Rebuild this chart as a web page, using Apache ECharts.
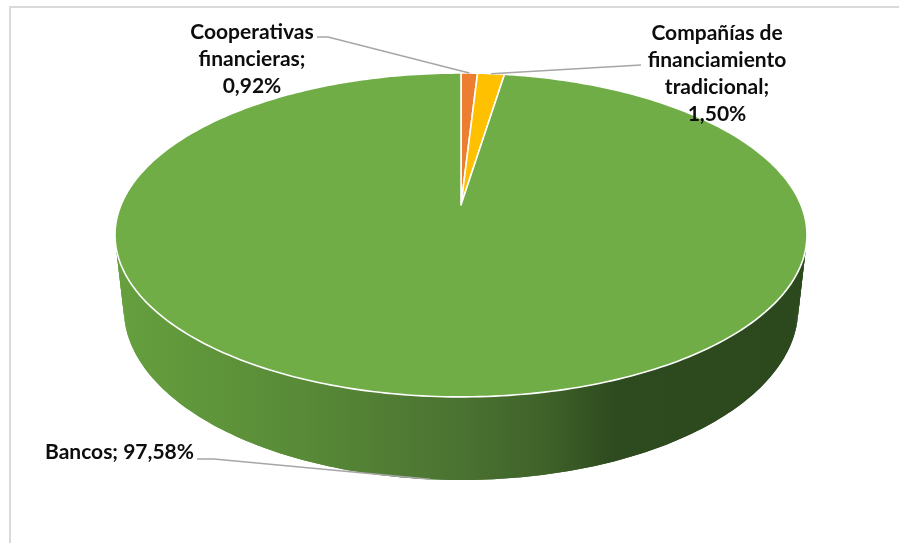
<!DOCTYPE html>
<html>
<head>
<meta charset="utf-8">
<script src="https://cdn.jsdelivr.net/npm/echarts@6/dist/echarts.min.js"></script>
<style>
  html, body { margin: 0; padding: 0; background: #fff; }
  #chart { width: 899px; height: 543px; }
</style>
</head>
<body>
<div id="chart"></div>
<script>
// Market share by type of credit institution (%)
const categories = ['Cooperativas financieras', 'Compañías de financiamiento tradicional', 'Bancos'];
const shares = [0.92, 1.50, 97.58];
const labelNames = ['Cooperativas\nfinancieras;\n', 'Compañías de\nfinanciamiento\ntradicional;\n', 'Bancos; '];
const sliceColors = ['#ED7D31', '#FFC000', '#70AD47'];

// Tilted-disc projection (perspective ellipse with a side wall)
const VIEW = { cx: 461, cy: 205, rx: 340, ry: 156.4, k: 0.185, m: 0.025, depth: 74.6 };

function project(theta, h) {
  const u = Math.sin(theta), v = Math.cos(theta);
  const w = 1 + VIEW.k * v + VIEW.m * h;
  return [VIEW.cx + VIEW.rx * u / w, VIEW.cy - VIEW.ry * v / w + VIEW.depth * h / w];
}

// Label placement (text anchor and leader-line bend points)
const labelLayout = [
  { x: 252, y: 59, align: 'center', bend: [[328, 37], [317, 37]] },
  { x: 717, y: 74, align: 'center', bend: [[641, 65]] },
  { x: 194, y: 452, align: 'right', bend: [[214, 459], [197, 459]] }
];

function wallFill(i) {
  if (i === 2) {
    return {
      type: 'linear', x: 115, y: 0, x2: 808, y2: 0, global: true,
      colorStops: [
        { offset: 0, color: '#66A03E' },
        { offset: 0.27, color: '#588A37' },
        { offset: 0.5, color: '#4A7231' },
        { offset: 0.62, color: '#3F6229' },
        { offset: 0.72, color: '#2E4B1F' },
        { offset: 1, color: '#2C481D' }
      ]
    };
  }
  return i === 0 ? '#A8561F' : '#B38700';
}

function fmtPct(v) {
  return v.toFixed(2).replace('.', ',') + '%';
}

function renderItem(params, api) {
  const i = params.dataIndex;
  const total = shares.reduce((a, b) => a + b, 0);
  let before = 0;
  for (let j = 0; j < i; j++) before += shares[j];
  const val = api.value(0);
  const a0 = before / total * Math.PI * 2;
  const a1 = (before + val) / total * Math.PI * 2;
  const steps = Math.max(2, Math.ceil((a1 - a0) / (Math.PI / 180)));
  const top = [], bot = [];
  for (let s = 0; s <= steps; s++) {
    const t = a0 + (a1 - a0) * s / steps;
    top.push(project(t, 0));
    bot.push(project(t, 1));
  }
  const children = [];
  const wf = wallFill(i);
  // side wall: overlapping strips so no seams show between them
  for (let s = 0; s < steps; s++) {
    const e = Math.min(s + 2, steps);
    children.push({
      type: 'polygon', z2: 1,
      shape: { points: [top[s], top[s + 1], top[e], bot[e], bot[s + 1], bot[s]] },
      style: { fill: wf }
    });
  }
  children.push({
    type: 'polygon', z2: 10,
    shape: { points: [[VIEW.cx, VIEW.cy]].concat(top) },
    style: { fill: sliceColors[i], stroke: '#FFFFFF', lineWidth: 1.6, lineJoin: 'round' }
  });

  // leader line from the slice edge to its label
  const mid = (a0 + a1) / 2;
  const anchor = i === 2 ? project(mid, 1) : project(mid, 0);
  const lay = labelLayout[i];
  children.push({
    type: 'polyline', z2: 20,
    shape: { points: [anchor].concat(lay.bend) },
    style: { fill: null, stroke: '#A6A6A6', lineWidth: 1.5 }
  });
  children.push({
    type: 'text', z2: 30,
    style: {
      text: labelNames[i] + fmtPct(val),
      x: lay.x, y: lay.y,
      align: lay.align, verticalAlign: 'middle',
      font: 'bold 21px Lato',
      lineHeight: 27,
      fill: '#0D0D0D'
    }
  });
  return { type: 'group', children: children };
}

const chart = echarts.init(document.getElementById('chart'), null, { renderer: 'canvas' });
chart.setOption({
  animation: false,
  backgroundColor: '#FFFFFF',
  graphic: [{
    type: 'rect', silent: true,
    shape: { x: 10, y: 7, width: 1000, height: 1000 },
    style: { fill: 'none', stroke: '#D9D9D9', lineWidth: 2 }
  }],
  series: [{
    type: 'custom',
    coordinateSystem: 'none',
    silent: true,
    renderItem: renderItem,
    data: shares.map((v, i) => ({ name: categories[i], value: v }))
  }]
});
</script>
</body>
</html>
